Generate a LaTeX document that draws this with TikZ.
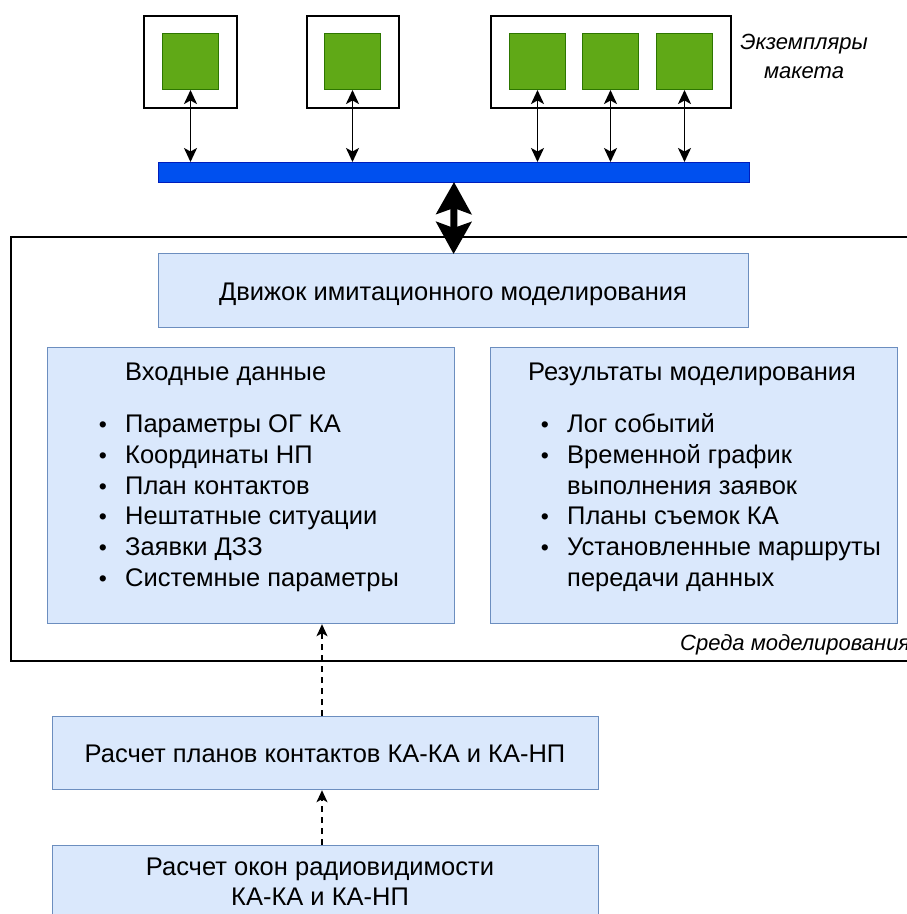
\documentclass[tikz,border=0pt]{standalone}
\usepackage{fontspec}
\setmainfont{Liberation Sans}
\usetikzlibrary{arrows.meta}
\definecolor{lbfill}{HTML}{DAE8FC}
\definecolor{lbdraw}{HTML}{6C8EBF}
\definecolor{gfill}{HTML}{60A917}
\definecolor{gdraw}{HTML}{2D7600}
\definecolor{bfill}{HTML}{0050EF}
\definecolor{bdraw}{HTML}{001DBC}
\tikzset{
  frame/.style={draw=black, line width=1.5pt, fill=white, anchor=north west, inner sep=0pt},
  gbox/.style={draw=gdraw, line width=1pt, fill=gfill, anchor=north west, minimum width=56pt, minimum height=56pt, inner sep=0pt},
  lbox/.style={draw=lbdraw, line width=1.2pt, fill=lbfill, anchor=north west, inner sep=0pt},
  txt/.style={font=\fontsize{25.5}{31}\selectfont, inner sep=0pt, anchor=base west},
  ctxt/.style={font=\fontsize{25.5}{31}\selectfont, inner sep=0pt, anchor=base},
  itxt/.style={font=\fontsize{22}{27}\itshape\selectfont, inner sep=0pt},
  bul/.style={font=\fontsize{23}{31}\selectfont, inner sep=0pt, anchor=base},
  link/.style={line width=1.8pt, {Stealth[length=14pt,width=13pt,inset=3.5pt]}-{Stealth[length=14pt,width=13pt,inset=3.5pt]}},
  dlink/.style={line width=1.4pt, dash pattern=on 6pt off 5pt, -{Stealth[length=12pt,width=11pt,inset=3pt]}},
}
\begin{document}
\begin{tikzpicture}[x=1pt,y=-1pt]
\useasboundingbox (0,0) rectangle (907,914);
\clip (0,0) rectangle (907,914);
% model instances
\node[frame, minimum width=93pt, minimum height=92pt] (m1) at (143,15) {};
\node[frame, minimum width=92pt, minimum height=92pt] (m2) at (306,15) {};
\node[frame, minimum width=240pt, minimum height=92pt] (m3) at (490,15) {};
\node[gbox] (g1) at (162,33) {};
\node[gbox] (g2) at (324,33) {};
\node[gbox] (g3) at (509,33) {};
\node[gbox] (g4) at (582,33) {};
\node[gbox] (g5) at (656,33) {};
\node[itxt, anchor=base] (lbl1) at (804,49) {Экземпляры};
\node[itxt, anchor=base] (lbl2) at (804,78) {макета};
% bus
\node[draw=bdraw, line width=1pt, fill=bfill, anchor=north west, minimum width=591pt, minimum height=20pt, inner sep=0pt] (bus) at (158,162) {};
\foreach \g in {g1,g2,g3,g4,g5}{
  \draw[link] (\g.south) -- (\g.south |- bus.north);
}
% environment
\node[frame, minimum width=910pt, minimum height=424pt] (env) at (10,236) {};
\node[itxt, anchor=base west] (envl) at (680,650) {Среда моделирования};
% engine
\node[lbox, minimum width=590pt, minimum height=74pt] (eng) at (158,253) {};
\node[ctxt] (engt) at (453,300) {Движок имитационного моделирования};
\draw[line width=7pt, {Stealth[length=32pt,width=35pt,inset=6pt]}-{Stealth[length=32pt,width=35pt,inset=6pt]}, shorten <=-1pt, shorten >=-1pt] (bus.south) -- (eng.north);
% input data
\node[lbox, minimum width=407pt, minimum height=276pt] (inp) at (47,347) {};
\node[txt] (inh) at (125,380) {Входные данные};
\node[bul] (ib1) at (103,432.5) {•};
\node[txt] (it1) at (125,432.5) {Параметры ОГ КА};
\node[bul] (ib2) at (103,463.3) {•};
\node[txt] (it2) at (125,463.3) {Координаты НП};
\node[bul] (ib3) at (103,494) {•};
\node[txt] (it3) at (125,494) {План контактов};
\node[bul] (ib4) at (103,524.8) {•};
\node[txt] (it4) at (125,524.8) {Нештатные ситуации};
\node[bul] (ib5) at (103,555.6) {•};
\node[txt] (it5) at (125,555.6) {Заявки ДЗЗ};
\node[bul] (ib6) at (103,586.4) {•};
\node[txt] (it6) at (125,586.4) {Системные параметры};
% results
\node[lbox, minimum width=407pt, minimum height=276pt] (res) at (490,347) {};
\node[txt] (rsh) at (528,380) {Результаты моделирования};
\node[bul] (rb1) at (545,432.5) {•};
\node[txt] (rt1) at (567,432.5) {Лог событий};
\node[bul] (rb2) at (545,463.3) {•};
\node[txt] (rt2) at (567,463.3) {Временной график};
\node[txt] (rt2b) at (567,494) {выполнения заявок};
\node[bul] (rb3) at (545,524.8) {•};
\node[txt] (rt3) at (567,524.8) {Планы съемок КА};
\node[bul] (rb4) at (545,555.6) {•};
\node[txt] (rt4) at (567,555.6) {Установленные маршруты};
\node[txt] (rt4b) at (567,586.4) {передачи данных};
% lower boxes
\node[lbox, minimum width=546pt, minimum height=73pt] (plan) at (52,716) {};
\node[ctxt] (plant) at (325,762) {Расчет планов контактов КА-КА и КА-НП};
\node[lbox, minimum width=546pt, minimum height=90pt] (win) at (52,845) {};
\node[ctxt] (wint1) at (320,875) {Расчет окон радиовидимости};
\node[ctxt] (wint2) at (320,905) {КА-КА и КА-НП};
\coordinate (dx) at (322,0);
\draw[dlink] (plan.north -| dx) -- (inp.south -| dx);
\draw[dlink] (win.north -| dx) -- (plan.south -| dx);
\end{tikzpicture}
\end{document}
